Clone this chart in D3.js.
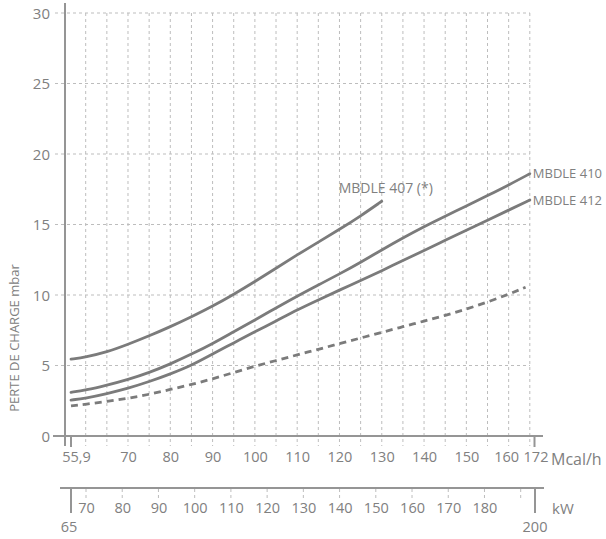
<!DOCTYPE html>
<html><head><meta charset="utf-8">
<script src="https://cdn.jsdelivr.net/npm/d3@7"></script>
<style>
body{margin:0;background:#fff;}
text{font-family:"Open Sans",sans-serif;fill:#808080;}
</style></head>
<body><svg id="c" width="606" height="539"></svg>
<script>
// ---- data ----
const series407 = {name:"MBDLE 407 (*)", x:[55.9,60,65,70,75,80,85,90,95,100,105,110,115,120,125,130],
  y:[5.45,5.6,5.95,6.5,7.1,7.75,8.45,9.2,10.05,10.95,11.9,12.85,13.75,14.65,15.6,16.65]};
const series410 = {name:"MBDLE 410", x:[55.9,60,65,70,75,80,85,90,95,100,105,110,115,120,125,130,135,140,145,150,155,160,165],
  y:[3.1,3.25,3.6,4.0,4.5,5.1,5.8,6.55,7.4,8.23,9.08,9.92,10.71,11.49,12.32,13.2,14.05,14.85,15.6,16.3,17.05,17.8,18.6]};
const series412 = {name:"MBDLE 412", x:[55.9,60,65,70,75,80,85,90,95,100,105,110,115,120,125,130,135,140,145,150,155,160,165],
  y:[2.55,2.68,3.0,3.38,3.85,4.4,5.0,5.82,6.6,7.4,8.15,8.95,9.65,10.35,11.02,11.72,12.45,13.15,13.88,14.6,15.3,16.02,16.74]};
const seriesDashed = {name:"", x:[55.9,60,65,70,75,80,85,90,95,100,105,110,115,120,125,130,135,140,145,150,155,160,164],
  y:[2.13,2.25,2.45,2.67,2.95,3.3,3.65,4.05,4.5,4.95,5.35,5.75,6.15,6.55,6.95,7.35,7.75,8.15,8.55,9.0,9.5,10.05,10.55]};

const yTicks = [0,5,10,15,20,25,30];
const mcalGrid = [60,65,70,75,80,85,90,95,100,105,110,115,120,125,130,135,140,145,150,155,160,165];
const mcalLabels = [55.9,70,80,90,100,110,120,130,140,150,160,172];
const mcalEnds = [55.9,172];
const kwGrid = [70,80,90,100,110,120,130,140,150,160,170,180,190];
const kwLabels = [70,80,90,100,110,120,130,140,150,160,170,180];
const kwEnds = [65,200];

// ---- scales ----
const svg = d3.select("#c");
const x = d3.scaleLinear().domain([55.9,60,165,172]).range([71,85.7,529.8,534.5]);
const xkw = d3.scaleLinear().domain([65,70,190,200]).range([71,86,520.7,535]);
const y = d3.scaleLinear().domain([0,30]).range([436,13]);

const grey = "#7b7b7b", gridC = "#bdbdbd", axisC = "#959595";

// horizontal grid
svg.append("g").selectAll("line").data(yTicks.filter(d=>d>0)).join("line")
  .attr("x1",55).attr("x2",530).attr("y1",d=>y(d)).attr("y2",d=>y(d))
  .attr("stroke",gridC).attr("stroke-width",1).attr("stroke-dasharray","3,3");
// vertical grid
svg.append("g").selectAll("line").data(mcalGrid).join("line")
  .attr("x1",d=>x(d)).attr("x2",d=>x(d)).attr("y1",y(30)).attr("y2",446)
  .attr("stroke",gridC).attr("stroke-width",1).attr("stroke-dasharray","3,3");

// y axis
svg.append("line").attr("x1",65).attr("x2",65).attr("y1",3).attr("y2",446)
  .attr("stroke",axisC).attr("stroke-width",2);
const yAxis = d3.axisLeft(y).tickValues(yTicks).tickSize(0).tickPadding(0);
const gy = svg.append("g").attr("transform","translate(50,0)").call(yAxis);
gy.select(".domain").remove();
gy.selectAll("text").style("font-size","15px").attr("fill","#808080").attr("dy","0.35em");

svg.append("text").attr("transform","translate(19,338) rotate(-90)")
  .attr("text-anchor","middle").style("font-size","13px").text("PERTE DE CHARGE mbar");

// Mcal axis
svg.append("line").attr("x1",53).attr("x2",543).attr("y1",y(0)).attr("y2",y(0))
  .attr("stroke",axisC).attr("stroke-width",2);
svg.append("g").selectAll("line").data(mcalEnds).join("line")
  .attr("x1",d=>x(d)).attr("x2",d=>x(d)).attr("y1",y(0)).attr("y2",447)
  .attr("stroke",axisC).attr("stroke-width",2);
const fmtMcal = d => d===55.9 ? "55,9" : String(d);
const gx = svg.append("g").attr("transform","translate(0,452)")
  .call(d3.axisBottom(x).tickValues(mcalLabels).tickSize(0).tickPadding(0).tickFormat(fmtMcal));
gx.select(".domain").remove();
gx.selectAll("text").style("font-size","14.5px").attr("fill","#808080").attr("dy","0.71em");
gx.selectAll("text").filter(d=>d===55.9).attr("dx","5");
gx.selectAll("text").filter(d=>d===160).attr("dx","-2.5");
gx.selectAll("text").filter(d=>d===172).attr("dx","1");
svg.append("text").attr("x",551).attr("y",465).style("font-size","16px").text("Mcal/h");

// kW axis
svg.append("line").attr("x1",60).attr("x2",544).attr("y1",488).attr("y2",488)
  .attr("stroke",axisC).attr("stroke-width",2);
svg.append("g").selectAll("line").data(kwGrid).join("line")
  .attr("x1",d=>xkw(d)).attr("x2",d=>xkw(d)).attr("y1",489).attr("y2",501)
  .attr("stroke",gridC).attr("stroke-width",1).attr("stroke-dasharray","3,3");
svg.append("g").selectAll("line").data(kwEnds).join("line")
  .attr("x1",d=>xkw(d)).attr("x2",d=>xkw(d)).attr("y1",489).attr("y2",513)
  .attr("stroke",axisC).attr("stroke-width",2);
const gk = svg.append("g").attr("transform","translate(0,503)")
  .call(d3.axisBottom(xkw).tickValues(kwLabels).tickSize(0).tickPadding(0));
gk.select(".domain").remove();
gk.selectAll("text").style("font-size","14.5px").attr("fill","#808080").attr("dy","0.71em");
svg.append("g").selectAll("text").data(kwEnds).join("text")
  .attr("x",d=>xkw(d)).attr("y",532).attr("text-anchor","middle")
  .attr("dx",d=>d===65?-2:0)
  .style("font-size","14.5px").text(d=>d);
svg.append("text").attr("x",552).attr("y",514).style("font-size","15px").text("kW");

// curves
const line = d3.line().x(d=>x(d[0])).y(d=>y(d[1])).curve(d3.curveBasis);
const pts = s => s.x.map((v,i)=>[v,s.y[i]]);
[series407,series410,series412].forEach(s=>{
  svg.append("path").attr("d",line(pts(s))).attr("fill","none")
    .attr("stroke",grey).attr("stroke-width",2.8).attr("stroke-linecap","round");
});
svg.append("path").attr("d",line(pts(seriesDashed))).attr("fill","none")
  .attr("stroke",grey).attr("stroke-width",2.8).attr("stroke-dasharray","7,5");

// curve labels
const last = s => [s.x[s.x.length-1], s.y[s.y.length-1]];
[series410,series412].forEach(s=>{
  const [lx,ly]=last(s);
  svg.append("text").attr("x",x(lx)+3).attr("y",y(ly)).attr("dy","0.35em")
    .style("font-size","13px").text(s.name);
});
{
  const [lx,ly]=last(series407);
  svg.append("text").attr("x",x(lx)+4).attr("y",y(ly)-8).attr("text-anchor","middle")
    .style("font-size","14px").text(series407.name);
}
</script></body></html>
